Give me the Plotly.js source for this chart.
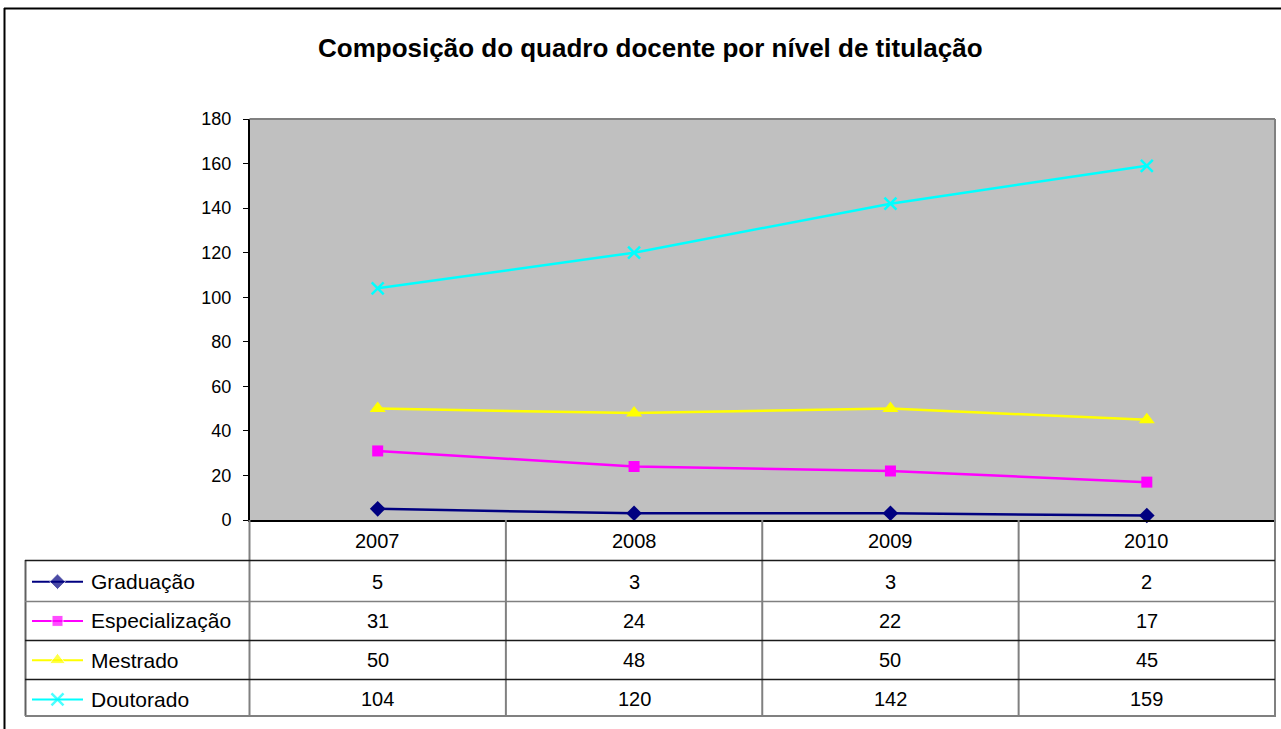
<!DOCTYPE html>
<html>
<head>
<meta charset="utf-8">
<script src="https://cdn.plot.ly/plotly-3.0.1.min.js"></script>
<style>html,body{margin:0;padding:0;background:#fff;}#chart{width:1281px;height:729px;}</style>
</head>
<body>
<div id="chart"></div>
<script>
// ---- data ----
const years = ['2007', '2008', '2009', '2010'];
const seriesNames = ['Graduação', 'Especialização', 'Mestrado', 'Doutorado'];
const graduacao = [5, 3, 3, 2];
const especializacao = [31, 24, 22, 17];
const mestrado = [50, 48, 50, 45];
const doutorado = [104, 120, 142, 159];
const chartTitle = 'Composição do quadro docente por nível de titulação';

// ---- styles ----
const seriesValues = [graduacao, especializacao, mestrado, doutorado];
const colors = ['#000080', '#FF00FF', '#FFFF00', '#00FFFF'];
const symbols = ['diamond', 'square', 'triangle-up', 'x-thin-open'];
const markerSizes = [12, 11, 14, 12];

const W = 1281, H = 729;
const px = x => x / W;
const py = y => 1 - y / H;
const FONT = 'Arial, "Liberation Sans", sans-serif';

const traces = [];
seriesNames.forEach((name, i) => {
  const mk = {color: colors[i], size: markerSizes[i], symbol: symbols[i]};
  if (symbols[i] === 'x-thin-open') mk.line = {color: colors[i], width: 2.5};
  traces.push({
    type: 'scatter', mode: 'lines+markers', name: name,
    x: years, y: seriesValues[i],
    line: {color: colors[i], width: 2.5},
    marker: mk, showlegend: false, hoverinfo: 'skip', cliponaxis: false,
    xaxis: 'x', yaxis: 'y'
  });
  // legend key inside the data table
  const mk2 = Object.assign({}, mk, {size: [0, markerSizes[i], 0]});
  traces.push({
    type: 'scatter', mode: 'lines+markers', name: name,
    x: [32, 57.5, 83], y: [name, name, name],
    line: {color: colors[i], width: 2},
    marker: mk2, showlegend: false, hoverinfo: 'skip', cliponaxis: false,
    xaxis: 'x2', yaxis: 'y2'
  });
});

const annotations = [];
annotations.push({
  xref: 'paper', yref: 'paper', x: px(650), y: py(48), xanchor: 'center', yanchor: 'middle',
  text: '<b>' + chartTitle + '</b>', showarrow: false,
  font: {family: FONT, size: 26, color: '#000'}
});
years.forEach((yr, j) => {
  annotations.push({xref: 'x', yref: 'paper', x: j, y: py(541), xanchor: 'center', yanchor: 'middle',
    text: yr, showarrow: false, font: {family: FONT, size: 20, color: '#000'}});
});
seriesNames.forEach((name, i) => {
  annotations.push({xref: 'x2', yref: 'y2', x: 89, y: i, xanchor: 'left', yanchor: 'middle',
    text: name, showarrow: false, font: {family: FONT, size: 21, color: '#000'}});
  years.forEach((yr, j) => {
    annotations.push({xref: 'x', yref: 'y2', x: j, y: i, xanchor: 'center', yanchor: 'middle',
      text: String(seriesValues[i][j]), showarrow: false, font: {family: FONT, size: 20, color: '#000'}});
  });
});

const GRAY = '#808080', DARK = '#1a1a1a';
const shapes = [];
// plot area fill
shapes.push({type: 'rect', xref: 'x domain', yref: 'y domain', x0: 0, x1: 1, y0: 0, y1: 1,
  fillcolor: '#C0C0C0', line: {width: 0}, layer: 'below'});
const hline = (y, x0, x1, c, w) => shapes.push({type: 'line', xref: 'paper', yref: 'paper',
  x0: px(x0), x1: px(x1), y0: py(y), y1: py(y), line: {color: c, width: w}});
const vline = (x, y0, y1, c, w) => shapes.push({type: 'line', xref: 'paper', yref: 'paper',
  x0: px(x), x1: px(x), y0: py(y0), y1: py(y1), line: {color: c, width: w}});
// outer chart border
hline(8.5, 4, 1281, '#000', 2);
vline(4.5, 8, 729, '#000', 2);
// plot area top/right borders
hline(119, 249.5, 1275, GRAY, 2);
vline(1275, 119, 717, GRAY, 2);
// table column separators (between categories)
[0.5, 1.5, 2.5].forEach(b => shapes.push({type: 'line', xref: 'x', yref: 'paper',
  x0: b, x1: b, y0: py(520), y1: py(716), line: {color: GRAY, width: 2}}));
vline(249.5, 520, 716, GRAY, 2);
vline(25.5, 560, 716, '#606060', 2);
// table rows
hline(560.5, 25, 1275, DARK, 1.5);
hline(601.5, 25, 1275, GRAY, 1.5);
hline(640.5, 25, 1275, DARK, 1.5);
hline(679.5, 25, 1275, DARK, 1.5);
hline(716, 25, 1275, GRAY, 2);

const layout = {
  width: W, height: H,
  margin: {l: 0, r: 0, t: 0, b: 0, pad: 0},
  paper_bgcolor: '#ffffff',
  plot_bgcolor: 'rgba(0,0,0,0)',
  showlegend: false,
  xaxis: {
    type: 'category', categoryarray: years, range: [-0.5, 3.5],
    domain: [px(249.5), px(1275)], anchor: 'y',
    showline: true, linecolor: '#000', linewidth: 1.5,
    showgrid: false, zeroline: false, ticks: '', showticklabels: false, fixedrange: true
  },
  yaxis: {
    range: [0, 180], dtick: 20, tick0: 0,
    domain: [py(520), py(119)], anchor: 'x',
    showline: true, linecolor: '#000', linewidth: 1.5,
    ticks: 'outside', ticklen: 5, tickwidth: 1, tickcolor: '#000',
    ticklabelstandoff: 8,
    showgrid: false, zeroline: false, fixedrange: true,
    tickfont: {family: FONT, size: 18, color: '#000'}
  },
  xaxis2: {
    domain: [px(25), px(249)], range: [25, 249], anchor: 'y2',
    visible: false, fixedrange: true
  },
  yaxis2: {
    type: 'category', categoryarray: seriesNames, range: [3.5, -0.5],
    domain: [py(719), py(562)], anchor: 'x2',
    visible: false, fixedrange: true
  },
  annotations: annotations,
  shapes: shapes
};

Plotly.newPlot('chart', traces, layout, {displayModeBar: false, staticPlot: true});
</script>
</body>
</html>
